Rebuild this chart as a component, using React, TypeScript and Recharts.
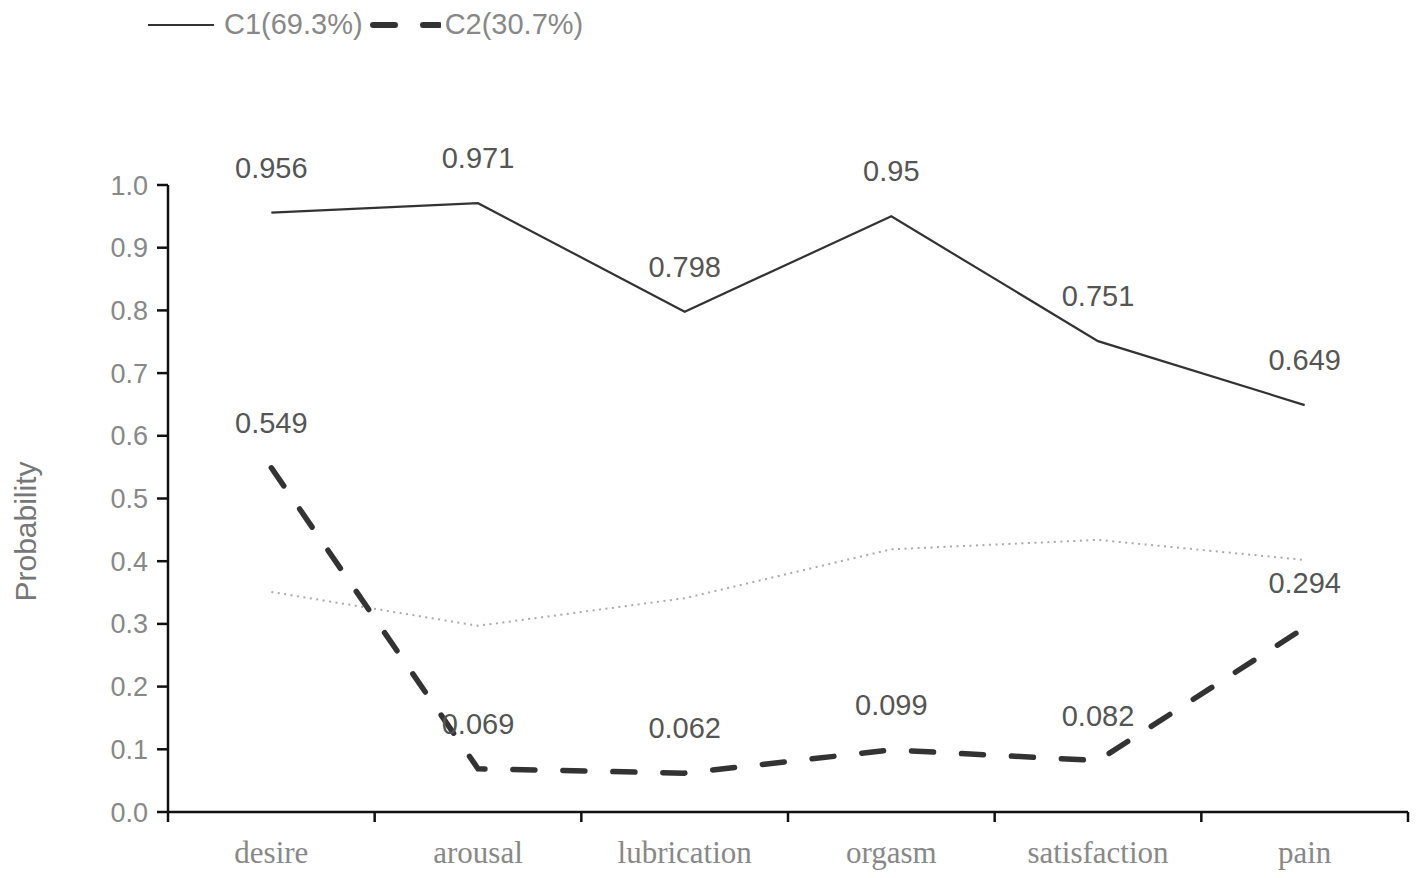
import { CartesianGrid, Label, LabelList, Legend, Line, LineChart, XAxis, YAxis } from 'recharts';

const categories = ['desire', 'arousal', 'lubrication', 'orgasm', 'satisfaction', 'pain'];
const c1Values = [0.956, 0.971, 0.798, 0.95, 0.751, 0.649];
const c2Values = [0.549, 0.069, 0.062, 0.099, 0.082, 0.294];
const overallValues = [0.351, 0.297, 0.341, 0.419, 0.434, 0.402];
const yTicks = [0, 0.1, 0.2, 0.3, 0.4, 0.5, 0.6, 0.7, 0.8, 0.9, 1.0];
const edgeTicks = [0, 1, 2, 3, 4, 5, 6];
const labelTicks = [0.5, 1.5, 2.5, 3.5, 4.5, 5.5];

const data = categories.map((name, i) => ({
  name,
  x: i + 0.5,
  c1: c1Values[i],
  c2: c2Values[i],
  overall: overallValues[i],
}));

const SANS = '"Liberation Sans", Arial, sans-serif';
const SERIF = '"Liberation Serif", "Times New Roman", serif';

function renderLegend(props: any) {
  const items = (props.payload || []).filter((p: any) => p.type !== 'none');
  return (
    <div style={{ display: 'flex', alignItems: 'center', fontFamily: SANS, fontSize: 29, color: '#888' }}>
      {items.map((p: any) => (
        <div key={p.value} style={{ display: 'flex', alignItems: 'center', marginRight: 6 }}>
          <svg width={72} height={20} style={{ marginRight: 4 }}>
            <line
              x1={p.payload?.strokeDasharray ? 4 : 0}
              y1={10}
              x2={p.payload?.strokeDasharray ? 70 : 66}
              y2={10}
              stroke={p.color}
              strokeWidth={p.payload?.strokeDasharray ? 6 : 2}
              strokeLinecap={p.payload?.strokeDasharray ? 'round' : 'butt'}
              strokeDasharray={p.payload?.strokeDasharray ? '22 28' : undefined}
            />
          </svg>
          <span>{p.value}</span>
        </div>
      ))}
    </div>
  );
}

function ProbabilityLabel(props: any) {
  const vb = props.viewBox || {};
  const cx = 17;
  const cy = (vb.y || 0) + (vb.height || 0) / 2 + 33;
  return (
    <text
      x={cx}
      y={cy}
      transform={`rotate(-90 ${cx} ${cy})`}
      textAnchor="middle"
      dominantBaseline="central"
      fill="#777"
      fontSize={30}
      fontFamily={SANS}
    >
      Probability
    </text>
  );
}

export default function App() {
  return (
    <LineChart width={1410} height={870} data={data} margin={{ top: 177, right: 10, bottom: 5, left: 0 }}>
      <CartesianGrid stroke="none" />
      <XAxis
        xAxisId="edges"
        type="number"
        dataKey="x"
        domain={[0, 6]}
        ticks={edgeTicks}
        interval={0}
        height={1}
        tickFormatter={() => ''}
        tickSize={10}
        axisLine={{ stroke: '#111', strokeWidth: 2.5 }}
        tickLine={{ stroke: '#111', strokeWidth: 2.5 }}
      />
      <XAxis
        xAxisId="labels"
        type="number"
        dataKey="x"
        domain={[0, 6]}
        ticks={labelTicks}
        height={60}
        axisLine={false}
        tickLine={false}
        tickSize={10}
        tickMargin={18}
        interval={0}
        tickFormatter={(v) => categories[Math.floor(Number(v))] ?? ''}
        tick={{ fill: '#888', fontSize: 31, fontFamily: SERIF }}
      />
      <YAxis
        domain={[0, 1]}
        ticks={yTicks}
        width={160}
        interval={0}
        tickSize={11}
        tickMargin={9}
        tickFormatter={(v) => Number(v).toFixed(1)}
        tick={{ fill: '#888', fontSize: 27, fontFamily: SANS }}
        axisLine={{ stroke: '#111', strokeWidth: 2.5 }}
        tickLine={{ stroke: '#111', strokeWidth: 2.5 }}
      >
        <Label content={<ProbabilityLabel />} />
      </YAxis>
      <Legend
        layout="horizontal"
        verticalAlign="middle"
        align="center"
        content={renderLegend}
        wrapperStyle={{ top: 0, left: 140, width: 'auto' }}
      />
      <Line
        xAxisId="edges"
        dataKey="overall"
        name="overall"
        legendType="none"
        stroke="#aaa"
        strokeWidth={2}
        strokeDasharray="2 4.5"
        dot={false}
        activeDot={false}
        isAnimationActive={false}
      />
      <Line
        xAxisId="labels"
        dataKey="c1"
        name="C1(69.3%)"
        stroke="#333"
        strokeWidth={2.2}
        dot={false}
        activeDot={false}
        isAnimationActive={false}
      >
        <LabelList dataKey="c1" position="top" offset={35} fill="#555" fontSize={29} fontFamily={SANS} />
      </Line>
      <Line
        xAxisId="labels"
        dataKey="c2"
        name="C2(30.7%)"
        stroke="#333"
        strokeWidth={5.5}
        strokeDasharray="22 28"
        strokeLinecap="round"
        dot={false}
        activeDot={false}
        isAnimationActive={false}
      >
        <LabelList dataKey="c2" position="top" offset={35} fill="#555" fontSize={29} fontFamily={SANS} />
      </Line>
    </LineChart>
  );
}
